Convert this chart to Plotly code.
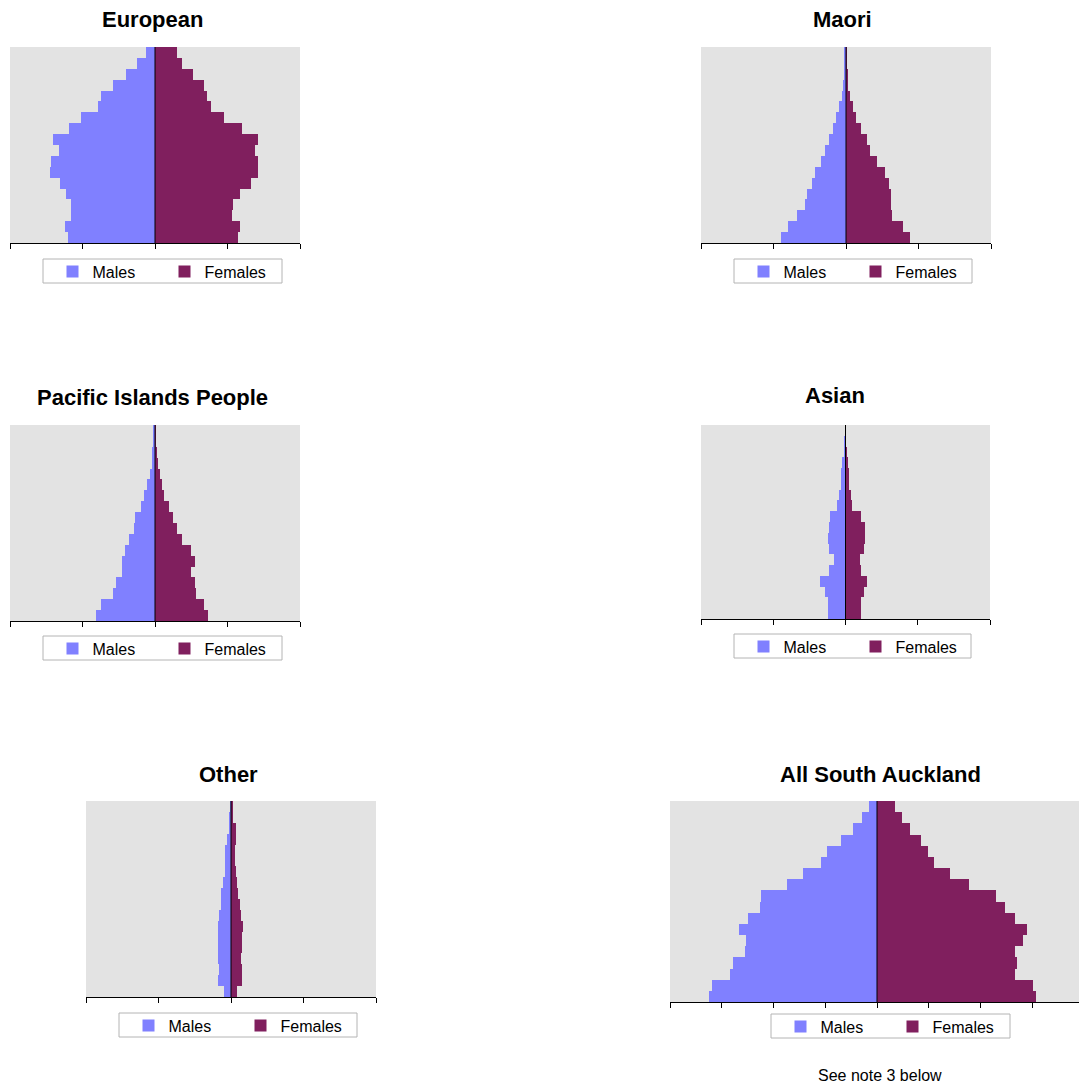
import plotly.graph_objects as go

W, H = 1079, 1084

age_groups = ["0-4", "5-9", "10-14", "15-19", "20-24", "25-29", "30-34", "35-39",
              "40-44", "45-49", "50-54", "55-59", "60-64", "65-69", "70-74",
              "75-79", "80-84", "85+"]

european_m = [59.9, 61.9, 58.0, 58.0, 61.2, 65.4, 72.2, 71.6, 66.1, 70.2, 59.2, 50.9, 39.2, 37.2, 28.9, 20.0, 12.4, 6.2]
european_f = [56.9, 58.9, 52.8, 54.1, 58.3, 66.5, 71.3, 71.3, 69.3, 71.3, 60.3, 47.9, 38.3, 36.2, 33.5, 25.9, 18.3, 14.9]

maori_m = [45.0, 40.1, 33.9, 28.4, 27.1, 23.6, 21.6, 17.4, 14.7, 11.9, 9.2, 7.1, 5.0, 3.0, 1.8, 0.9, 0.7, 0.7]
maori_f = [43.8, 39.0, 31.4, 30.7, 30.7, 29.4, 26.6, 21.1, 16.3, 14.2, 10.1, 6.7, 4.6, 2.5, 1.6, 0.7, 0.5, 0.5]

pacific_m = [40.6, 37.2, 28.9, 26.8, 22.7, 22.7, 20.6, 17.9, 14.4, 13.8, 9.6, 7.6, 5.5, 3.4, 2.1, 2.1, 1.4, 1.4]
pacific_f = [36.5, 33.7, 28.2, 27.5, 24.8, 27.5, 24.8, 18.6, 15.1, 12.4, 9.6, 6.2, 4.8, 3.4, 2.1, 1.4, 0.5, 0.2]

asian_m = [12.0, 12.0, 14.0, 17.5, 11.3, 7.8, 11.3, 12.0, 11.3, 10.5, 5.8, 4.4, 3.4, 2.8, 2.2, 0.7, 0.5, 0.3]
asian_f = [10.8, 10.8, 13.1, 14.9, 11.0, 10.0, 12.6, 13.5, 13.5, 10.8, 4.6, 3.9, 2.5, 2.5, 2.0, 0.5, 0.3, 0.1]

other_m = [5.0, 9.2, 8.5, 9.2, 8.9, 9.2, 9.2, 8.5, 7.1, 7.1, 5.7, 4.4, 4.4, 4.4, 3.0, 1.6, 0.7, 0.5]
other_f = [3.9, 7.3, 7.3, 6.7, 7.3, 7.3, 8.0, 6.7, 6.0, 4.6, 3.9, 3.2, 2.5, 2.5, 3.2, 3.2, 1.1, 0.9]

allsa_m = [162.3, 159.4, 142.0, 139.1, 127.5, 126.6, 133.3, 124.6, 113.0, 112.1, 86.9, 71.5, 54.1, 48.3, 34.8, 23.2, 14.5, 7.7]
allsa_f = [153.3, 150.4, 133.0, 134.9, 133.0, 140.7, 144.6, 133.0, 123.3, 114.6, 88.6, 70.2, 54.7, 49.0, 42.2, 31.6, 23.8, 17.1]

titles = ["European", "Maori", "Pacific Islands People", "Asian", "Other", "All South Auckland"]
series_names = ["Males", "Females"]

MALE_COLOR = "#8080FF"
FEMALE_COLOR = "#801F5E"
BG = "#E3E3E3"
FONT = "Arial, Liberation Sans, sans-serif"

# panel geometry in pixels
panels = [
    dict(m=european_m, f=european_f, l=10, r=300, t=47, b=243, tcx=152, tcy=20,
         box=(43, 282, 259, 283), amax=100, xr=100),
    dict(m=maori_m, f=maori_f, l=701, r=991, t=47, b=243, tcx=842, tcy=20,
         box=(734, 972, 259, 283), amax=100, xr=100),
    dict(m=pacific_m, f=pacific_f, l=10, r=300, t=425, b=621, tcx=152, tcy=397,
         box=(43, 282, 636, 660), amax=100, xr=100),
    dict(m=asian_m, f=asian_f, l=701, r=990, t=425, b=619, tcx=835, tcy=396,
         box=(734, 971, 634, 658), amax=100, xr=100),
    dict(m=other_m, f=other_f, l=86, r=376, t=801, b=997, tcx=228, tcy=774,
         box=(119, 357, 1013, 1037), amax=100, xr=100),
    dict(m=allsa_m, f=allsa_f, l=670, r=1079, t=801, b=1002, tcx=880, tcy=774,
         box=(771, 1010, 1014, 1038), amax=200, xr=200 * (1079 - 877) / 207.0),
]

fig = go.Figure()
layout = dict(
    width=W, height=H,
    margin=dict(l=0, r=0, t=0, b=0),
    paper_bgcolor="white",
    plot_bgcolor=BG,
    barmode="overlay",
    bargap=0,
    font=dict(family=FONT, color="black"),
    showlegend=True,
)
annotations = []
shapes = []

for i, p in enumerate(panels):
    n = "" if i == 0 else str(i + 1)
    xa, ya = "x" + n, "y" + n
    leg = "legend" + n
    fig.add_trace(go.Bar(
        y=age_groups, x=[-v for v in p["m"]], orientation="h", name=series_names[0],
        marker=dict(color=MALE_COLOR, line=dict(width=0)), xaxis=xa, yaxis=ya, legend=leg,
        customdata=p["m"], hovertemplate="%{y}: %{customdata}<extra>Males</extra>",
    ))
    fig.add_trace(go.Bar(
        y=age_groups, x=p["f"], orientation="h", name=series_names[1],
        marker=dict(color=FEMALE_COLOR, line=dict(width=0)), xaxis=xa, yaxis=ya, legend=leg,
        hovertemplate="%{y}: %{x}<extra>Females</extra>",
    ))
    step = p["amax"] / (2 if p["amax"] == 100 else 4)
    tv = []
    v = -p["amax"]
    while v <= p["amax"] + 1e-9:
        tv.append(v)
        v += step
    layout["xaxis" + n] = dict(
        domain=[p["l"] / W, p["r"] / W], anchor=ya,
        range=[-p["amax"], p["xr"]], showgrid=False, zeroline=False,
        showline=True, linecolor="black", linewidth=1,
        ticks="outside", ticklen=5, tickcolor="black", tickwidth=1,
        tickvals=tv, showticklabels=False, fixedrange=True,
    )
    layout["yaxis" + n] = dict(
        domain=[1 - p["b"] / H, 1 - p["t"] / H], anchor=xa,
        type="category", categoryorder="array", categoryarray=age_groups,
        range=[-0.5, len(age_groups) - 0.5],
        showgrid=False, zeroline=False, showline=False, ticks="",
        showticklabels=False, fixedrange=True,
    )
    bx0, bx1, by0, by1 = p["box"]
    shapes.append(dict(
        type="rect", xref="paper", yref="paper",
        x0=bx0 / W, x1=bx1 / W, y0=1 - by1 / H, y1=1 - by0 / H,
        line=dict(color="#B4B4B4", width=1), fillcolor="white", layer="below",
    ))
    layout[leg] = dict(
        x=(bx0 + 9.5) / W, y=1 - ((by0 + by1) / 2 + 0.5) / H, xref="paper", yref="paper",
        xanchor="left", yanchor="middle", orientation="h",
        bgcolor="rgba(0,0,0,0)", borderwidth=0,
        font=dict(family=FONT, size=16, color="black"),
        entrywidth=67, itemwidth=30, traceorder="normal",
    )
    annotations.append(dict(
        text="<b>" + titles[i] + "</b>", x=p["tcx"] / W, y=1 - p["tcy"] / H,
        xref="paper", yref="paper", xanchor="center", yanchor="middle",
        showarrow=False, font=dict(family=FONT, size=22, color="black"),
    ))
    shapes.append(dict(
        type="line", xref=xa, yref=ya + " domain", x0=0, x1=0, y0=0, y1=1,
        line=dict(color="black", width=1), layer="above",
    ))

annotations.append(dict(
    text="See note 3 below", x=880 / W, y=1 - 1075 / H, xref="paper", yref="paper",
    xanchor="center", yanchor="middle", showarrow=False,
    font=dict(family=FONT, size=16, color="black"),
))

layout["annotations"] = annotations
layout["shapes"] = shapes
fig.update_layout(**layout)

fig.write_html("out.html", config={"displayModeBar": False},
               post_script="document.body.style.margin='0';")
